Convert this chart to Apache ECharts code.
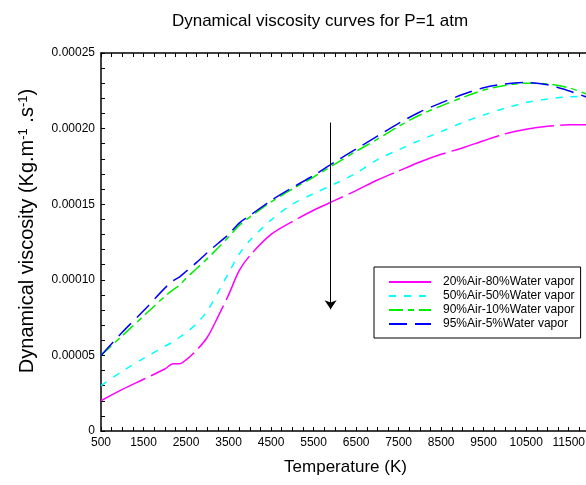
<!DOCTYPE html>
<html>
<head>
<meta charset="utf-8">
<script src="https://cdn.jsdelivr.net/npm/echarts@6/dist/echarts.min.js"></script>
<style>html,body{margin:0;padding:0;background:#fff}#c{width:586px;height:485px}</style>
</head>
<body>
<div id="c"></div>
<script>
// Temperature (K)
var temps = [500, 1000, 1500, 2000, 2200, 2350, 2500, 2750, 3000, 3250, 3500, 3750, 4000, 4500, 5000, 5500, 6000, 6500, 7000, 7500, 8000, 8500, 9000, 9500, 10000, 10500, 11000, 11500, 12000];
// Dynamical viscosity (Kg.m-1.s-1)
var air20 = [2.0e-5, 2.75e-5, 3.42e-5, 4.1e-5, 4.45e-5, 4.45e-5, 4.7e-5, 5.35e-5, 6.2e-5, 7.55e-5, 9.0e-5, 1.06e-4, 1.16e-4, 1.30e-4, 1.385e-4, 1.46e-4, 1.525e-4, 1.59e-4, 1.66e-4, 1.72e-4, 1.779e-4, 1.83e-4, 1.872e-4, 1.92e-4, 1.965e-4, 1.995e-4, 2.015e-4, 2.025e-4, 2.025e-4];
var air50 = [3.0e-5, 3.95e-5, 4.8e-5, 5.6e-5, 5.9e-5, 6.2e-5, 6.5e-5, 7.1e-5, 7.95e-5, 9.15e-5, 1.045e-4, 1.17e-4, 1.26e-4, 1.395e-4, 1.50e-4, 1.57e-4, 1.635e-4, 1.705e-4, 1.795e-4, 1.86e-4, 1.923e-4, 1.98e-4, 2.04e-4, 2.09e-4, 2.135e-4, 2.172e-4, 2.195e-4, 2.21e-4, 2.215e-4];
var air90 = [5.0e-5, 6.3e-5, 7.6e-5, 8.9e-5, 9.35e-5, 9.65e-5, 1.01e-4, 1.075e-4, 1.14e-4, 1.21e-4, 1.283e-4, 1.36e-4, 1.415e-4, 1.515e-4, 1.60e-4, 1.68e-4, 1.765e-4, 1.85e-4, 1.93e-4, 2.015e-4, 2.09e-4, 2.15e-4, 2.205e-4, 2.255e-4, 2.285e-4, 2.30e-4, 2.295e-4, 2.27e-4, 2.22e-4];
var air95 = [5.0e-5, 6.53e-5, 7.95e-5, 9.45e-5, 9.95e-5, 1.02e-4, 1.055e-4, 1.115e-4, 1.18e-4, 1.24e-4, 1.30e-4, 1.375e-4, 1.425e-4, 1.525e-4, 1.61e-4, 1.69e-4, 1.78e-4, 1.865e-4, 1.95e-4, 2.035e-4, 2.11e-4, 2.17e-4, 2.225e-4, 2.27e-4, 2.295e-4, 2.305e-4, 2.29e-4, 2.25e-4, 2.20e-4];
var seriesNames = ['20%Air-80%Water vapor', '50%Air-50%Water vapor', '90%Air-10%Water vapor', '95%Air-5%Water vapor'];
var xTicks = [500, 1500, 2500, 3500, 4500, 5500, 6500, 7500, 8500, 9500, 10500, 11500];
var yTicks = [0, 0.00005, 0.00010, 0.00015, 0.00020, 0.00025];
// arrow (trend direction) at T = 5900 K
var arrowX = 5900, arrowFrom = 0.000204, arrowTo = 0.0000805;

function pairs(ys) { return temps.map(function (t, i) { return [t, ys[i]]; }); }

var FONT = 'Liberation Sans, Arial, sans-serif';
var chart = echarts.init(document.getElementById('c'), null, { renderer: 'canvas' });

function mkSeries(name, ys, color, dash, extra) {
  var s = {
    name: name, type: 'line', data: pairs(ys), smooth: 0.3, symbol: 'none',
    lineStyle: { color: color, width: 1.5, type: dash },
    itemStyle: { color: color }, z: 3
  };
  if (extra) for (var k in extra) s[k] = extra[k];
  return s;
}

var option = {
  animation: false,
  backgroundColor: '#fff',
  textStyle: { fontFamily: FONT },
  title: {
    text: 'Dynamical viscosity curves for P=1 atm',
    left: 315, top: 8, textAlign: 'center',
    textStyle: { fontFamily: FONT, fontSize: 17, fontWeight: 'normal', color: '#000' }
  },
  grid: { left: 101, top: 53, bottom: 54, width: 489, outerBoundsMode: 'none' },
  legend: {
    orient: 'vertical', left: 374, top: 267,
    padding: [8, 6, 7, 14], itemGap: 0, itemWidth: 42, itemHeight: 14,
    borderColor: '#000', borderWidth: 1, backgroundColor: '#fff',
    itemStyle: { opacity: 0 },
    textStyle: { fontFamily: FONT, fontSize: 12, color: '#000', lineHeight: 14, padding: [0, 0, 0, 7] },
    data: seriesNames
  },
  xAxis: [{
    type: 'value', min: 500, max: 12000, interval: 1000,
    name: 'Temperature (K)', nameLocation: 'middle', nameGap: 28,
    nameTextStyle: { fontFamily: FONT, fontSize: 17, color: '#000' },
    axisLine: { show: true, onZero: false, lineStyle: { color: '#000', width: 1.5 } },
    axisTick: { show: true, inside: true, length: 4, lineStyle: { color: '#000' } },
    minorTick: { show: true, splitNumber: 4, length: 4, lineStyle: { color: '#000' } },
    axisLabel: {
      margin: 6, fontFamily: FONT, fontSize: 12, color: '#000',
      formatter: function (v) { return xTicks.indexOf(v) >= 0 ? String(v) : ''; }
    },
    splitLine: { show: false }
  }, {
    type: 'value', position: 'top', min: 500, max: 12000, interval: 1000,
    axisLine: { show: true, onZero: false, lineStyle: { color: '#000', width: 1.5 } },
    axisTick: { show: true, inside: true, length: 4, lineStyle: { color: '#000' } },
    minorTick: { show: true, splitNumber: 4, length: 4, lineStyle: { color: '#000' } },
    axisLabel: { show: false }, splitLine: { show: false }
  }],
  yAxis: {
    type: 'value', min: 0, max: 0.00025, interval: 0.00005,
    name: 'Dynamical viscosity (Kg.m{sup|-1} .s{sup|-1})',
    nameLocation: 'middle', nameRotate: 90, nameGap: 63,
    nameTextStyle: {
      fontFamily: FONT, fontSize: 20, color: '#000', padding: [0, 0, 0, 22],
      rich: { sup: { fontFamily: FONT, fontSize: 13, color: '#000', verticalAlign: 'top', padding: [0, 0, 8, 0] } }
    },
    axisLine: { show: true, onZero: false, lineStyle: { color: '#000', width: 1.5 } },
    axisTick: { show: true, inside: true, length: 4, lineStyle: { color: '#000' } },
    minorTick: { show: true, splitNumber: 5, length: 4, lineStyle: { color: '#000' } },
    axisLabel: {
      margin: 6, fontFamily: FONT, fontSize: 12, color: '#000',
      formatter: function (v) { return v === 0 ? '0' : v.toFixed(5); }
    },
    splitLine: { show: false }
  },
  series: [
    mkSeries(seriesNames[0], air20, '#ff00ff', [50, 6], {
      markLine: {
        silent: true, symbol: ['none', 'arrow'], symbolSize: 9,
        label: { show: false },
        lineStyle: { color: '#000', width: 1, type: 'solid' },
        data: [[{ coord: [arrowX, arrowFrom] }, { coord: [arrowX, arrowTo] }]]
      }
    }),
    mkSeries(seriesNames[1], air50, '#00ffff', [7, 8]),
    mkSeries(seriesNames[2], air90, '#00ee00', [14, 5, 6, 5]),
    mkSeries(seriesNames[3], air95, '#0000ff', [18, 8])
  ]
};
chart.setOption(option);
</script>
</body>
</html>
